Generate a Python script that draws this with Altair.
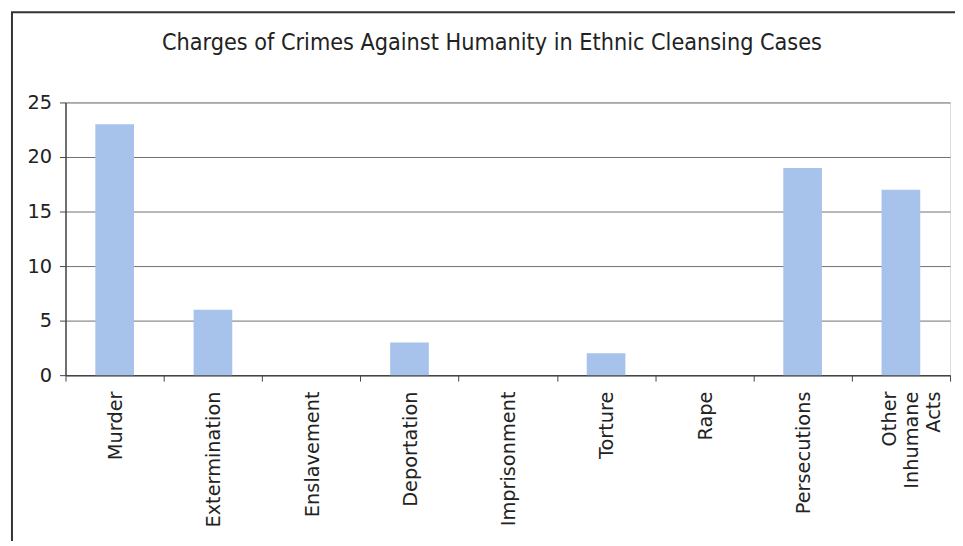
import altair as alt
import pandas as pd

categories = ["Murder", "Extermination", "Enslavement", "Deportation", "Imprisonment",
              "Torture", "Rape", "Persecutions", "Other Inhumane Acts"]
counts = [23, 6, 0, 3, 0, 2, 0, 19, 17]
y_ticks = [0, 5, 10, 15, 20, 25]

df = pd.DataFrame({"category": categories, "count": counts})

FONT = "DejaVu Sans"

x_enc = alt.X(
    "category:N", sort=categories, title=None,
    scale=alt.Scale(paddingInner=0, paddingOuter=0),
    axis=alt.Axis(labelAngle=-90, labelFont=FONT, labelFontSize=19.5, labelColor="#222",
                  labelPadding=10, tickBand="extent", tickSize=6, tickColor="#444",
                  domainColor="#444", domainWidth=1.5, grid=False,
                  labelExpr="datum.value == 'Other Inhumane Acts' ? ['Other', 'Inhumane', 'Acts'] : datum.value",
                  labelLineHeight=22,
                  labelOffset={"condition": {"test": "datum.value == 'Other Inhumane Acts'", "value": -11},
                               "value": 1}),
)
y_enc = alt.Y(
    "count:Q", title=None,
    scale=alt.Scale(domain=[0, 25], nice=False),
    axis=alt.Axis(values=y_ticks, labelFont=FONT, labelFontSize=19.5, labelColor="#222",
                  labelPadding=8, tickSize=6, tickColor="#444", domainColor="#444",
                  domainWidth=1.5, gridColor="#6f6f6f", gridWidth=1),
)

bars = alt.Chart(df).mark_bar(size=39, color="#a7c3ec").encode(x=x_enc, y=y_enc)

frame = alt.Chart(alt.Data(values=[{"a": 1}])).mark_rect(
    fill=None, stroke="#333", strokeWidth=2
).encode(
    x=alt.value(-54), x2=alt.value(1000), y=alt.value(-91), y2=alt.value(520)
)

chart = alt.layer(frame, bars).properties(
    width=892, height=275,
    autosize=alt.AutoSizeParams(type="none"),
    padding={"left": 58, "top": 93, "right": 5, "bottom": 165},
    title=alt.TitleParams(
        "Charges of Crimes Against Humanity in Ethnic Cleansing Cases",
        font="DejaVu Sans Condensed", fontSize=23.4, fontWeight="normal", color="#222",
        anchor="middle", frame="group", offset=2, dx=-16, dy=46,
    ),
).configure_view(
    fill="#f2f3f6", stroke="#bbb", strokeWidth=1
).configure(background="white")

chart.save("out.html", embed_options={"renderer": "svg", "actions": False})
